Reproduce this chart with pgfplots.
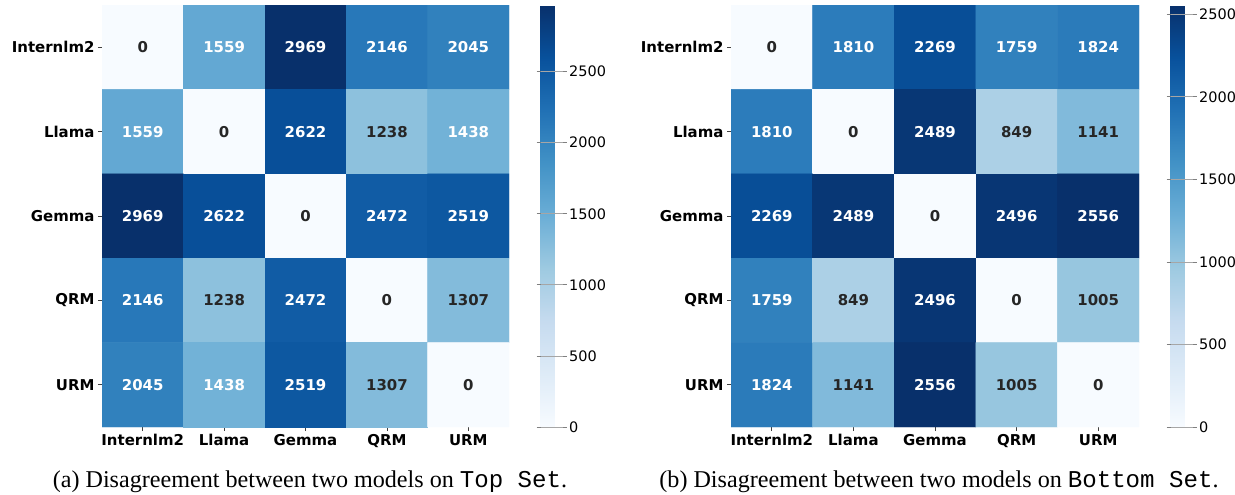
\documentclass[border=0pt]{standalone}
\usepackage{pgfplots}
\pgfplotsset{compat=1.18}
\usepackage{pgfplotstable}
\usepackage{fontspec}
\setmainfont{Liberation Serif}
\setmonofont{Liberation Mono}
\newfontfamily\dejavu{DejaVu Sans}
\definecolor{dk}{HTML}{262626}

% w = 1: white annotation, w = 0: dark annotation
\pgfplotstableread{
x y v w
0 0 0 0
1 0 1559 1
2 0 2969 1
3 0 2146 1
4 0 2045 1
0 1 1559 1
1 1 0 0
2 1 2622 1
3 1 1238 0
4 1 1438 1
0 2 2969 1
1 2 2622 1
2 2 0 0
3 2 2472 1
4 2 2519 1
0 3 2146 1
1 3 1238 0
2 3 2472 1
3 3 0 0
4 3 1307 0
0 4 2045 1
1 4 1438 1
2 4 2519 1
3 4 1307 0
4 4 0 0
}\topset

\pgfplotstableread{
x y v w
0 0 0 0
1 0 1810 1
2 0 2269 1
3 0 1759 1
4 0 1824 1
0 1 1810 1
1 1 0 0
2 1 2489 1
3 1 849 0
4 1 1141 0
0 2 2269 1
1 2 2489 1
2 2 0 0
3 2 2496 1
4 2 2556 1
0 3 1759 1
1 3 849 0
2 3 2496 1
3 3 0 0
4 3 1005 0
0 4 1824 1
1 4 1141 0
2 4 2556 1
3 4 1005 0
4 4 0 0
}\bottomset

\pgfplotsset{
  hm/.style={
    height=422bp, scale only axis,
    xmin=-0.5, xmax=4.5, ymin=-0.5, ymax=4.5, y dir=reverse,
    enlargelimits=false,
    xtick={0,...,4}, ytick={0,...,4},
    xticklabels={Internlm2,Llama,Gemma,QRM,URM},
    yticklabels={Internlm2,Llama,Gemma,QRM,URM},
    tick align=outside, xtick pos=bottom, ytick pos=left,
    major tick length=4bp,
    tick style={black!75, line width=0.8bp},
    separate axis lines, axis line style={draw=none},
    ticklabel style={font=\dejavu\bfseries\fontsize{15}{18}\selectfont, text=black},
    colormap={blues}{rgb255=(247,251,255) rgb255=(222,235,247) rgb255=(198,219,239) rgb255=(158,202,225) rgb255=(107,174,214) rgb255=(66,146,198) rgb255=(33,113,181) rgb255=(8,81,156) rgb255=(8,48,107)},
    point meta min=0,
    colorbar,
    colorbar style={
      at={(parent axis.north east)}, anchor=north west, xshift=23bp,
      width=22bp, height=422bp, scale only axis,
      ytick={0,500,...,2500},
      yticklabel style={font=\dejavu\fontsize{14.5}{17}\selectfont, text=black, inner sep=2.5bp},
      /pgf/number format/1000 sep={},
      /pgf/number format/assume math mode=true,
      separate axis lines, axis line style={draw=none},
      tick align=outside, major tick length=4bp,
      ytick style={gray, line width=0.8bp},
      ymajorgrids, major grid style={gray!70, line width=0.8bp},
      axis on top,
    },
  },
  lbl/.style={
    draw=none, mark=none,
    point meta=explicit symbolic,
    nodes near coords,
    every node near coord/.append style={anchor=center, text=#1,
      font=\dejavu\bfseries\fontsize{15}{18}\selectfont},
  },
}

\begin{document}
\begin{tikzpicture}
\useasboundingbox (0,0) rectangle (1235bp,495bp);
\begin{axis}[hm, at={(102bp,68bp)}, anchor=south west, width=407bp, point meta max=2969]
\addplot[matrix plot*, mesh/cols=5, point meta=explicit] table[x=x,y=y,meta=v]{\topset};
\addplot[lbl=white, x filter/.expression={\thisrow{w}>0.5 ? x : nan}] table[x=x,y=y,meta=v]{\topset};
\addplot[lbl=dk, x filter/.expression={\thisrow{w}<0.5 ? x : nan}] table[x=x,y=y,meta=v]{\topset};
\end{axis}
\begin{axis}[hm, at={(731bp,68bp)}, anchor=south west, width=408bp, point meta max=2556]
\addplot[matrix plot*, mesh/cols=5, point meta=explicit] table[x=x,y=y,meta=v]{\bottomset};
\addplot[lbl=white, x filter/.expression={\thisrow{w}>0.5 ? x : nan}] table[x=x,y=y,meta=v]{\bottomset};
\addplot[lbl=dk, x filter/.expression={\thisrow{w}<0.5 ? x : nan}] table[x=x,y=y,meta=v]{\bottomset};
\end{axis}
\node[anchor=base, inner sep=0pt] at (310bp,8bp) {\fontsize{24.2}{29}\selectfont (a) Disagreement between two models on \texttt{Top Set}.};
\node[anchor=base, inner sep=0pt] at (939bp,8bp) {\fontsize{24.2}{29}\selectfont (b) Disagreement between two models on \texttt{Bottom Set}.};
\end{tikzpicture}
\end{document}
